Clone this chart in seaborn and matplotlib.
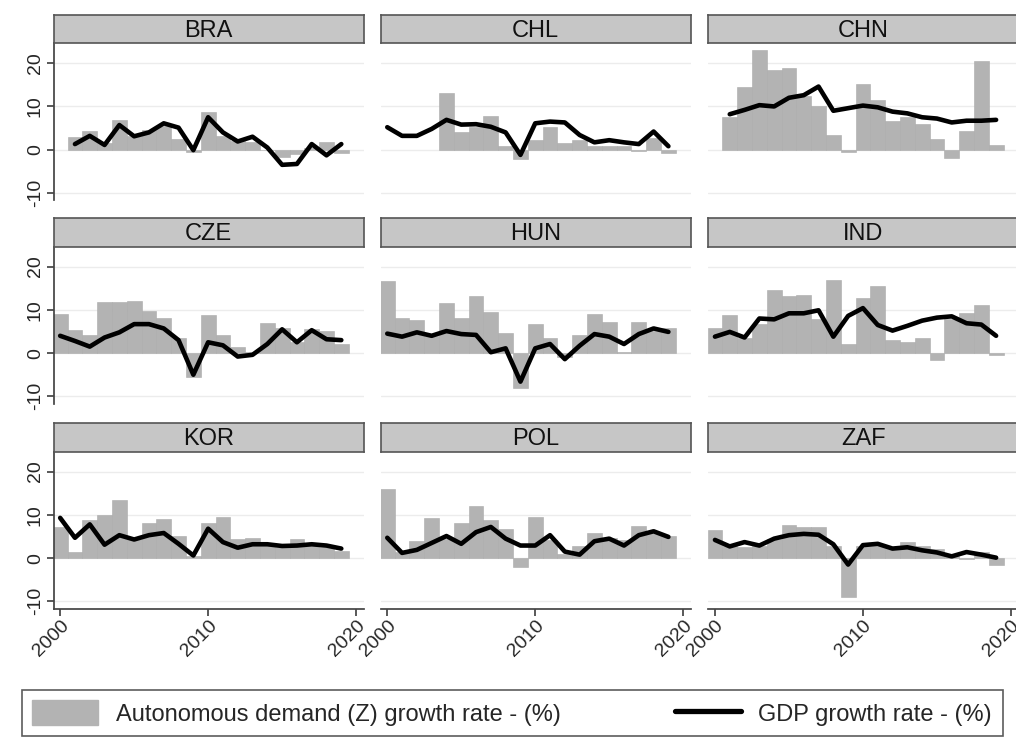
import numpy as np
import pandas as pd
import matplotlib
matplotlib.use("Agg")
import matplotlib.pyplot as plt
from matplotlib.patches import Patch
from matplotlib.lines import Line2D
import seaborn as sns

nan = np.nan
years = list(range(2000, 2020))
countries = ["BRA", "CHL", "CHN", "CZE", "HUN", "IND", "KOR", "POL", "ZAF"]

# Autonomous demand (Z) growth rate (%)
bra_z = [nan, 3.0, 4.3, 1.5, 6.8, 3.2, 4.6, 5.5, 2.5, -0.5, 8.8, 3.2, 2.1, 1.7, 0.0, -1.8, -1.0, 0.5, 1.7, -0.8]
chl_z = [nan, nan, nan, nan, 13.2, 4.2, 5.2, 7.7, 0.9, -2.2, 2.2, 5.2, 1.5, 2.3, 0.9, 0.8, 0.9, -0.2, 2.8, -0.8]
chn_z = [nan, 7.5, 14.6, 23.0, 18.4, 18.8, 12.3, 10.2, 3.5, -0.5, 15.2, 11.5, 6.7, 7.5, 5.9, 2.5, -1.9, 4.4, 20.5, 1.1]
cze_z = [9.0, 5.3, 4.2, 11.8, 11.8, 12.1, 9.8, 8.0, 3.6, -5.5, 8.8, 4.2, 1.5, 0.3, 6.9, 5.9, 2.5, 5.5, 5.0, 2.1]
hun_z = [16.7, 8.0, 7.7, 4.0, 11.5, 8.1, 13.2, 9.6, 4.6, -8.1, 6.8, 3.6, -1.0, 4.2, 9.0, 7.2, 0.3, 7.2, 5.2, 5.8]
ind_z = [5.7, 8.8, 3.6, 6.7, 14.6, 13.1, 13.4, 7.8, 16.9, 2.1, 12.8, 15.5, 3.1, 2.6, 3.6, -1.5, 7.8, 9.2, 11.1, -0.4]
kor_z = [7.2, 1.4, 8.8, 9.9, 13.4, 4.5, 8.1, 9.1, 5.0, 0.5, 8.0, 9.5, 4.3, 4.7, 3.3, 2.6, 4.3, 3.3, 2.6, 1.6]
pol_z = [16.0, 1.4, 3.9, 9.3, 4.5, 8.0, 12.0, 8.9, 6.8, -2.1, 9.5, 4.1, 1.0, 2.7, 5.8, 4.7, 4.1, 7.4, 6.0, 5.0]
zaf_z = [6.4, 2.9, 2.6, 2.9, 4.5, 7.6, 7.1, 7.1, 2.9, -8.9, 2.9, 2.9, 2.4, 3.7, 2.9, 2.2, 0.6, -0.3, 1.4, -1.5]

# GDP growth rate (%)
bra_gdp = [nan, 1.3, 3.2, 1.1, 5.7, 3.1, 4.0, 6.1, 5.1, -0.1, 7.5, 4.0, 1.9, 3.0, 0.5, -3.5, -3.3, 1.3, -1.3, 1.3]
chl_gdp = [5.2, 3.2, 3.2, 4.8, 6.9, 5.8, 5.9, 5.3, 4.0, -1.2, 6.1, 6.5, 6.3, 3.4, 1.7, 2.2, 1.7, 1.3, 4.2, 0.8]
chn_gdp = [nan, 8.2, 9.2, 10.3, 10.0, 12.0, 12.6, 14.6, 9.0, 9.6, 10.2, 9.8, 8.8, 8.4, 7.5, 7.2, 6.3, 6.7, 6.7, 6.9]
cze_gdp = [4.0, 2.8, 1.5, 3.6, 4.8, 6.7, 6.7, 5.7, 3.0, -5.0, 2.5, 1.8, -0.8, -0.4, 2.1, 5.5, 2.5, 5.3, 3.2, 3.0]
hun_gdp = [4.5, 3.8, 4.8, 4.0, 5.1, 4.4, 4.2, 0.2, 1.1, -6.6, 1.1, 2.1, -1.4, 1.7, 4.4, 3.8, 2.1, 4.4, 5.7, 4.9]
ind_gdp = [3.8, 4.9, 3.6, 8.0, 7.8, 9.2, 9.2, 9.9, 3.8, 8.6, 10.4, 6.5, 5.2, 6.3, 7.5, 8.2, 8.5, 6.9, 6.6, 4.0]
kor_gdp = [9.3, 4.7, 7.8, 3.1, 5.3, 4.3, 5.3, 5.8, 3.3, 0.6, 6.8, 3.7, 2.4, 3.2, 3.2, 2.8, 2.9, 3.2, 2.9, 2.2]
pol_gdp = [4.7, 1.2, 1.9, 3.5, 5.1, 3.3, 6.0, 7.2, 4.5, 2.9, 2.9, 5.3, 1.5, 0.8, 3.9, 4.5, 2.9, 5.3, 6.2, 4.9]
zaf_gdp = [4.2, 2.7, 3.7, 2.9, 4.5, 5.3, 5.6, 5.4, 3.2, -1.5, 3.0, 3.3, 2.2, 2.5, 1.8, 1.3, 0.4, 1.4, 0.8, 0.1]

z_series = [bra_z, chl_z, chn_z, cze_z, hun_z, ind_z, kor_z, pol_z, zaf_z]
gdp_series = [bra_gdp, chl_gdp, chn_gdp, cze_gdp, hun_gdp, ind_gdp, kor_gdp, pol_gdp, zaf_gdp]

y_ticks = [-10, 0, 10, 20]
x_ticks = [2000, 2010, 2020]
legend_labels = ["Autonomous demand (Z) growth rate - (%)", "GDP growth rate - (%)"]

rows = []
for c, zs, gs in zip(countries, z_series, gdp_series):
    for yr, zv, gv in zip(years, zs, gs):
        rows.append({"country": c, "year": yr, "z": zv, "gdp": gv})
df = pd.DataFrame(rows)

sns.set_theme(style="white")
plt.rcParams["font.family"] = ["Liberation Sans", "DejaVu Sans"]
plt.rcParams["axes.unicode_minus"] = False

W, H = 1016, 743
fig = plt.figure(figsize=(W / 100, H / 100), dpi=100)
fig.patch.set_facecolor("white")

col_left = [53.5, 380.6, 708.3]
col_w = 310.0
row_top = [43.3, 246.7, 451.7]
plot_h = 157.0
strip_h = 28.5

BAR_C = "#b3b3b3"
STRIP_C = "#c6c6c6"

for i, c in enumerate(countries):
    r, k = divmod(i, 3)
    x0 = col_left[k]
    yt = row_top[r]
    ax = fig.add_axes([x0 / W, 1 - (yt + plot_h) / H, col_w / W, plot_h / H])
    sub = df[df.country == c]
    ax.bar(sub.year, sub.z, width=1.0, color=BAR_C, edgecolor="#aaaaaa", linewidth=0.4, zorder=2)
    sns.lineplot(data=sub, x="year", y="gdp", ax=ax, color="black", linewidth=3.3, zorder=3,
                 legend=False)
    ax.set_xlim(1999.55, 2020.5)
    ax.set_ylim(-11.7, 24.6)
    ax.set_yticks(y_ticks)
    ax.set_xticks(x_ticks)
    ax.grid(axis="y", color="#ececec", linewidth=1.0, zorder=0)
    ax.grid(axis="x", visible=False)
    ax.set_xlabel("")
    ax.set_ylabel("")
    for s in ["top", "right"]:
        ax.spines[s].set_visible(False)
    ax.spines["left"].set_visible(k == 0)
    ax.spines["bottom"].set_visible(r == 2)
    ax.spines["left"].set_color("#444444")
    ax.spines["bottom"].set_color("#444444")
    ax.tick_params(axis="y", left=(k == 0), labelleft=(k == 0), length=5, color="#444444",
                   labelsize=14, direction="out", pad=2)
    ax.tick_params(axis="x", bottom=(r == 2), labelbottom=(r == 2), length=5, color="#444444",
                   labelsize=14, direction="out", pad=1)
    if k == 0:
        for lab in ax.get_yticklabels():
            lab.set_rotation(90)
            lab.set_va("center")
    if r == 2:
        for lab in ax.get_xticklabels():
            lab.set_rotation(45)
            lab.set_ha("right")
            lab.set_rotation_mode("anchor")
    ax.patch.set_alpha(0)

    sax = fig.add_axes([x0 / W, 1 - yt / H, col_w / W, strip_h / H])
    sax.set_facecolor(STRIP_C)
    sax.set_xticks([])
    sax.set_yticks([])
    for s in sax.spines.values():
        s.set_visible(True)
        s.set_color("#555555")
        s.set_linewidth(1.2)
    sax.text(0.5, 0.44, c, ha="center", va="center", fontsize=17, color="#111111",
             transform=sax.transAxes)

handles = [Patch(facecolor=BAR_C, edgecolor=BAR_C),
           Line2D([0], [0], color="black", linewidth=3.8)]
leg = fig.legend(handles, legend_labels, loc="center", ncol=2,
                 bbox_to_anchor=(21.7 / W, 1 - 738 / H, 981 / W, 50 / H), mode="expand",
                 frameon=True, fancybox=False, edgecolor="#333333", fontsize=17,
                 handlelength=2.8, handleheight=1.2, columnspacing=2.0, borderpad=0.45,
                 handletextpad=0.75, borderaxespad=0)
leg.get_frame().set_linewidth(1.2)

fig.savefig("out.png", dpi=100, facecolor="white")
